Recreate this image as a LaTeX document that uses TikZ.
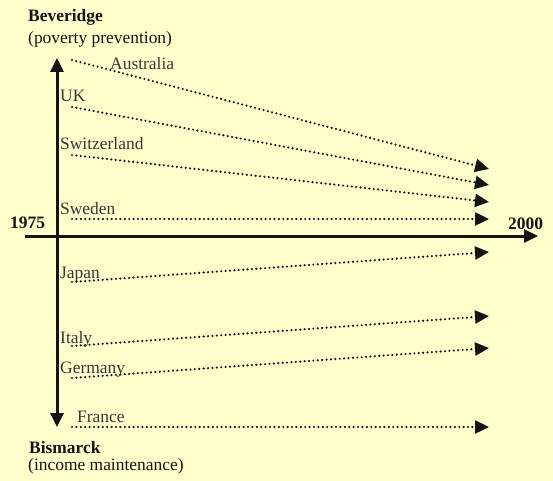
\documentclass[tikz,border=0pt]{standalone}
\usepackage{fontspec}
\setmainfont{Liberation Serif}
\usepackage{tikz}
\usetikzlibrary{arrows.meta, positioning}
\definecolor{paper}{RGB}{255,255,204}
\definecolor{ink}{RGB}{20,20,20}
\tikzstyle{country} = [anchor=base west, inner sep=0pt, text=ink!85,
                       font=\fontsize{17.5}{20}\selectfont]
\tikzstyle{pole}    = [anchor=base west, inner sep=0pt, text=ink,
                       font=\fontsize{17.5}{20}\selectfont\bfseries]
\tikzstyle{axis}    = [-{Triangle[length=14bp, width=13bp]}, line width=3bp, draw=ink]
\tikzstyle{trend}   = [-{Triangle[length=14bp, width=13bp]}, line width=2.4bp, draw=ink,
                       line cap=round, dash pattern=on 0bp off 4.4bp]

\begin{document}
\begin{tikzpicture}[x=1bp, y=-1bp]
    \fill[paper] (0,0) rectangle (553,481);
    \useasboundingbox (0,0) rectangle (553,481);

    % the two poles
    \node[pole] (bev) at (28,22) {Beveridge};
    \node[country, text=ink] (bevsub) at (28,44) {(poverty prevention)};
    \node[pole] (bis) at (29,453) {Bismarck};
    \node[country, text=ink] (bissub) at (28,470) {(income maintenance)};

    % time axis
    \node[pole] (y1975) at (10,228) {1975};
    \node[pole] (y2000) at (508,229) {2000};
    \coordinate (tstart) at (25,236);
    \coordinate (tend)   at (538,236);
    \coordinate (ptop)   at (57,58);
    \coordinate (pbot)   at (57,427);
    \draw[axis] (tstart) -- (tend);
    \draw[axis, {Triangle[length=14bp, width=13bp]}-{Triangle[length=14bp, width=13bp]}] (ptop) -- (pbot);

    % countries
    \node[country] (aus) at (110,70)  {Australia};
    \node[country] (uk)  at (60,102)  {UK};
    \node[country] (che) at (60,150)  {Switzerland};
    \node[country] (swe) at (60,215)  {Sweden};
    \node[country] (jpn) at (60,278)  {Japan};
    \node[country] (ita) at (60,343)  {Italy};
    \node[country] (deu) at (60,373)  {Germany};
    \node[country] (fra) at (77,422)  {France};

    \coordinate (aus0) at (72,60);   \coordinate (aus1) at (489,169);
    \coordinate (uk0)  at (72,107);  \coordinate (uk1)  at (489,185);
    \coordinate (che0) at (72,155);  \coordinate (che1) at (489,202);
    \coordinate (swe0) at (72,219);  \coordinate (swe1) at (489,219);
    \coordinate (jpn0) at (72,282);  \coordinate (jpn1) at (489,252);
    \coordinate (ita0) at (72,346);  \coordinate (ita1) at (489,316);
    \coordinate (deu0) at (72,378);  \coordinate (deu1) at (489,348);
    \coordinate (fra0) at (72,427);  \coordinate (fra1) at (489,427);

    \draw[trend] (aus0) -- (aus1);
    \draw[trend] (uk0)  -- (uk1);
    \draw[trend] (che0) -- (che1);
    \draw[trend] (swe0) -- (swe1);
    \draw[trend] (jpn0) -- (jpn1);
    \draw[trend] (ita0) -- (ita1);
    \draw[trend] (deu0) -- (deu1);
    \draw[trend] (fra0) -- (fra1);
\end{tikzpicture}
\end{document}
